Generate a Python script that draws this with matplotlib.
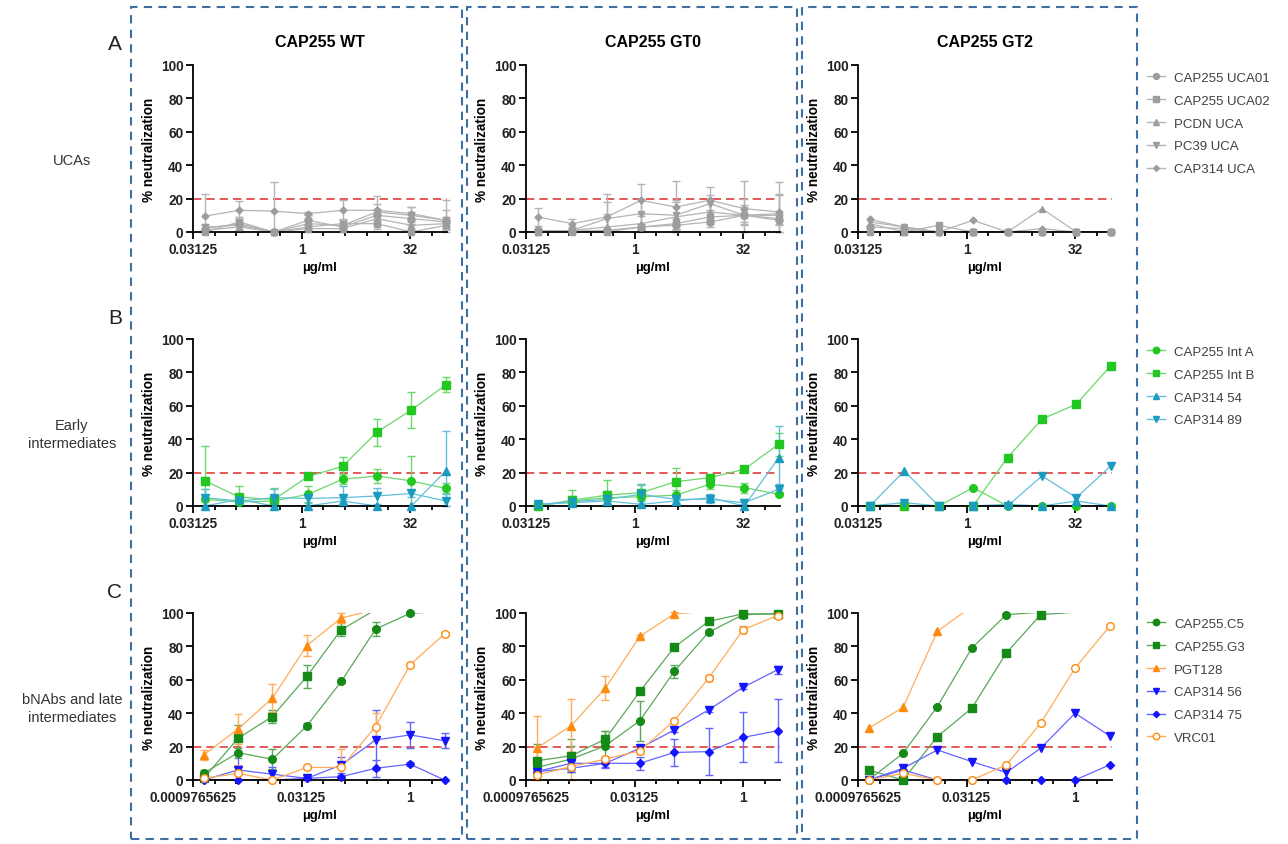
import numpy as np
import matplotlib.pyplot as plt
from matplotlib.lines import Line2D
from matplotlib.patches import Rectangle
from matplotlib.ticker import FixedLocator, NullFormatter

plt.rcParams['font.family'] = ['Liberation Sans', 'DejaVu Sans']

nan = np.nan

# concentrations (ug/ml), 3-fold dilutions
conc_ab = [0.0457, 0.137, 0.412, 1.23, 3.70, 11.1, 33.3, 100]
conc_c = [0.00137, 0.00412, 0.0123, 0.0370, 0.111, 0.333, 1.0, 3.0]

column_titles = ["CAP255 WT", "CAP255 GT0", "CAP255 GT2"]
row_letters = ["A", "B", "C"]
row_names = ["UCAs", "Early\nintermediates", "bNAbs and late\nintermediates"]

uca_labels = ["CAP255 UCA01", "CAP255 UCA02", "PCDN UCA", "PC39 UCA", "CAP314 UCA"]
int_labels = ["CAP255 Int A", "CAP255 Int B", "CAP314 54", "CAP314 89"]
bnab_labels = ["CAP255.C5", "CAP255.G3", "PGT128", "CAP314 56", "CAP314 75", "VRC01"]

# row A - UCAs
uca_wt = [[2, 5, 0, 7, 3, 10, 8, 6],
          [0, 6, 0, 3, 5, 5, 0, 4],
          [1, 3, 0, 2, 2, 8, 4, 5],
          [3, 4, 0, 5, 4, 12, 10, 7],
          [9.5, 13, 12.5, 11, 13, 13, 11, 7]]
uca_wt_err = [[2, 4, 0, 3, 2, 4, 4, 3],
              [1, 3, 0, 2, 3, 3, 0, 2],
              [1, 2, 0, 2, 2, 3, 2, 3],
              [2, 4, 0, 3, 3, 5, 5, 6],
              [13.5, 5.5, 17.5, 1, 6, 8.5, 4, 12]]
uca_gt0 = [[1, 0.5, 1, 3, 4, 6, 10, 7],
           [0, 0, 0, 3, 5, 9, 10, 8],
           [0, 1, 3, 5, 9, 12, 10, 10],
           [0, 1, 8, 11, 10, 17, 10, 11],
           [9, 5, 9, 19, 15, 19, 14, 12]]
uca_gt0_err = [[1, 1, 1, 2, 2, 3, 5, 3],
               [1, 1, 1, 2, 3, 4, 4, 3],
               [1, 2, 8, 6, 9, 5, 10, 12],
               [1, 2, 10, 9, 9, 5, 6, 12],
               [5.5, 3, 14, 9.5, 15.5, 8, 16.5, 18]]
uca_gt2 = [[3, 2, 0, 0, 0, 0, 0, 0],
           [0, 0, 4, 0, 0, 0, 0, 0],
           [5, 0, 0, 0, 0, 14, 0, 0],
           [6, 3, 0, 0, 0, 0, 0, 0],
           [7.5, 3, 0, 7, 0, 2, 0, 0]]

# row B - early intermediates
int_wt = [[4, 2.4, 3, 7, 16, 18, 15, 10.5],
          [15, 5.4, 3.8, 17.7, 23.7, 44.2, 57.5, 72.5],
          [0, 4, 0, 0, 3, 0, 0, 21],
          [5, 3, 5, 4.5, 5, 6, 7.5, 3]]
int_wt_err = [[6, 2, 3, 5, 3, 4, 15, 3],
              [21, 6.5, 7, 1.5, 5.5, 8, 10.5, 4.5],
              [0, 1, 0, 0, 1, 0, 0, 24],
              [5, 2, 5, 2, 7, 5, 2, 4]]
int_gt0 = [[0, 3, 5, 5.5, 6.5, 13, 11, 7],
           [0, 3.5, 6.5, 8, 14.5, 17, 22, 37],
           [1, 2, 3, 1, 3, 5, 0, 29],
           [1, 2.5, 4, 7, 4, 4, 2, 10]]
int_gt0_err = [[1, 3, 4, 7, 3, 3, 3, 1],
               [1, 6, 9, 5, 8, 2, 1, 7],
               [1, 1, 2, 2, 2, 2, 1, 19],
               [1, 2, 2, 6, 2, 2, 2, 3]]
int_gt2 = [[0, 0, 0, 11, 0, 0, 0, 0],
           [0, 0, 0, 0, 29, 52, 61, 84],
           [0, 21, 0, 0, 1, 0, 3, 0],
           [0, 2, 0, 0, 0, 18, 5, 24]]

# row C - bNAbs and late intermediates
bnab_wt = [[4, 16.4, 12.4, 32.4, 59, 90.4, 99.8, 101],
           [1, 25, 38, 62, 90, 102, nan, nan],
           [15, 30.5, 49, 80.5, 97, 102, nan, nan],
           [0, 6, 3.5, 1, 9, 24, 27, 23.5],
           [0, 0, 0, 1, 2, 7, 9.5, 0],
           [1, 4, 0, 7.5, 7.5, 32, 69, 87.5]]
bnab_wt_err = [[2, 3, 6, 1.5, 1, 4, 1, 0],
               [1, 8, 4, 7, 4, 0, 0, 0],
               [3, 9, 8.5, 6.5, 3, 0, 0, 0],
               [0, 9, 4, 1, 5, 18, 8, 4.5],
               [0, 0, 0, 1, 1, 5, 1, 0],
               [1, 5, 1, 1, 11, 8, 1, 1]]
bnab_gt0 = [[7.5, 12.5, 20.5, 35.5, 65, 88.5, 99, 99.5],
            [11.5, 14.5, 24.5, 53, 79.5, 95, 99.5, 99.5],
            [19, 32.5, 55, 86, 99.5, 101, nan, nan],
            [5, 10, 10, 19, 30, 42, 55.5, 66],
            [5, 7, 10, 10, 16.5, 17, 25.5, 29.5],
            [3, 8, 12.5, 17.5, 35.5, 61, 90, 98.5]]
bnab_gt0_err = [[4, 8, 9, 12, 4, 1, 1, 1],
                [10, 10, 5, 1, 1, 1, 1, 1],
                [19.5, 16, 7, 1, 1, 0, 0, 0],
                [2, 4, 2, 1, 1, 1, 1, 2.5],
                [2, 2, 3, 4, 8, 14, 15, 19],
                [3, 9, 2, 2, 1, 2, 2, 1]]
bnab_gt2 = [[0, 16, 44, 79, 99, 100.5, nan, nan],
            [6, 0, 26, 43, 76, 99, 100.5, nan],
            [31, 43.5, 89, 104, nan, nan, nan, nan],
            [0, 7, 18, 11, 4.5, 19, 40, 26.5],
            [0, 6, 0, 0, 0, 0, 0, 9],
            [0, 4, 0, 0, 9, 34, 67, 92]]

gray, gray_l = '#9d9da0', '#b4b4b6'
green, green_l = '#22c722', '#6ad86a'
teal, teal_l = '#1b9bc0', '#62bfdc'
dkgreen, dkgreen_l = '#168a16', '#5aa85a'
orange, orange_l = '#ff8a10', '#ffac5a'
blue, blue_l = '#1414ff', '#6464ff'

# (marker, size, face, edge, line)
uca_styles = [('o', 5, gray, gray, gray_l), ('s', 5, gray, gray, gray_l),
              ('^', 5, gray, gray, gray_l), ('v', 5, gray, gray, gray_l),
              ('D', 3.5, gray, gray, gray_l)]
int_styles = [('o', 5.5, green, green, green_l), ('s', 5.5, green, green, green_l),
              ('^', 5.5, teal, teal, teal_l), ('v', 5.5, teal, teal, teal_l)]
bnab_styles = [('o', 5.5, dkgreen, dkgreen, dkgreen_l), ('s', 5.5, dkgreen, dkgreen, dkgreen_l),
               ('^', 5.5, orange, orange, orange_l), ('v', 5.5, blue, blue, blue_l),
               ('D', 3.8, blue, blue, blue_l), ('o', 5.5, 'white', orange, orange_l)]

W, H = 1288, 845
fig = plt.figure(figsize=(W / 100, H / 100), dpi=100)


def draw_panel(ax, conc, values, errors, styles, xmaj, xlim):
    x = np.array(conc)
    for i, (vals, st) in enumerate(zip(values, styles)):
        mk, ms, fc, ec, lc = st
        y = np.array(vals, float)
        ax.plot(x, y, color=lc, lw=0.9, zorder=2)
        if errors is not None:
            e = np.array(errors[i], float)
            ye = np.where(e > 0, y, nan)
            low = np.minimum(e, np.nan_to_num(y))
            ax.errorbar(x, ye, yerr=[low, e], fmt='none', ecolor=lc, elinewidth=1,
                        capsize=3, capthick=1, clip_on=False, zorder=2)
        ym = np.where(y > 100, nan, y)
        ax.plot(x, ym, ls='none', marker=mk, ms=ms, mfc=fc, mec=ec, mew=1,
                clip_on=False, zorder=3)
    ax.axhline(20, color='#e03c3c', ls=(0, (5, 3)), lw=1.2, zorder=1)
    ax.set_xscale('log', base=2)
    ax.set_xlim(*xlim)
    ax.set_ylim(0, 100)
    ax.set_yticks([0, 20, 40, 60, 80, 100])
    ax.set_xticks(xmaj)
    ax.set_xticklabels([('%.10f' % v).rstrip('0').rstrip('.') for v in xmaj])
    lo, hi = np.log2(xlim[0]), np.log2(xlim[1])
    minors = [2.0 ** k for k in range(int(np.ceil(lo)), int(np.floor(hi)) + 1)
              if 2.0 ** k not in xmaj]
    ax.xaxis.set_minor_locator(FixedLocator(minors))
    ax.xaxis.set_minor_formatter(NullFormatter())
    for s in ['top', 'right']:
        ax.spines[s].set_visible(False)
    for s in ['left', 'bottom']:
        ax.spines[s].set_linewidth(1.3)
    ax.tick_params(which='major', length=5, width=1.3, labelsize=9.8, pad=2)
    ax.tick_params(which='minor', length=3, width=1.3)
    for lab in ax.get_xticklabels() + ax.get_yticklabels():
        lab.set_fontweight('bold')
        lab.set_color('#222222')
    ax.set_xlabel('µg/ml', fontweight='bold', fontsize=9.5, labelpad=4)
    ax.set_ylabel('% neutralization', fontweight='bold', fontsize=9.8, labelpad=3)


rows = [
    (66, 233, conc_ab, [uca_wt, uca_gt0, uca_gt2], [uca_wt_err, uca_gt0_err, None],
     uca_styles, uca_labels, [2 ** -5, 1, 32], (2 ** -5, 2 ** 6.7)),
    (340, 507, conc_ab, [int_wt, int_gt0, int_gt2], [int_wt_err, int_gt0_err, None],
     int_styles, int_labels, [2 ** -5, 1, 32], (2 ** -5, 2 ** 6.7)),
    (614, 781, conc_c, [bnab_wt, bnab_gt0, bnab_gt2], [bnab_wt_err, bnab_gt0_err, None],
     bnab_styles, bnab_labels, [2 ** -10, 2 ** -5, 1], (2 ** -10, 2 ** 1.7)),
]
x_lefts = [193, 526, 858]
ax_w = 254
legend_tops = [61, 335, 607]

for r, (ytop, ybot, conc, vals, errs, styles, labels, xmaj, xlim) in enumerate(rows):
    for c in range(3):
        ax = fig.add_axes([x_lefts[c] / W, 1 - ybot / H, ax_w / W, (ybot - ytop) / H])
        draw_panel(ax, conc, vals[c], errs[c], styles, xmaj, xlim)
        if r == 0:
            ax.set_title(column_titles[c], fontweight='bold', fontsize=11.5, pad=14)
    handles = [Line2D([], [], color=st[4], lw=1, marker=st[0], ms=st[1] * 0.85,
                      mfc=st[2], mec=st[3]) for st in styles]
    leg = fig.legend(handles, labels, loc='upper left',
                     bbox_to_anchor=(1135 / W, 1 - legend_tops[r] / H), frameon=False,
                     fontsize=9.5, handlelength=1.4, labelspacing=0.8, handletextpad=0.68)
    for t in leg.get_texts():
        t.set_color('#404040')
    fig.text(115 / W, 1 - (ytop - 21) / H, row_letters[r], fontsize=15,
             ha='center', va='center', color='#222222')
    fig.text(72 / W, 1 - (ytop + 95) / H, row_names[r], fontsize=10.5,
             ha='center', va='center', color='#333333', linespacing=1.3)

# dashed column boxes
for x0, x1 in [(131, 462), (467, 797), (802, 1137)]:
    fig.add_artist(Rectangle((x0 / W, 1 - 840 / H), (x1 - x0) / W, (840 - 8) / H,
                             transform=fig.transFigure, fill=False, ec='#3d6fa3',
                             lw=1.5, ls=(0, (4, 3))))

fig.savefig('out.png', dpi=100)
